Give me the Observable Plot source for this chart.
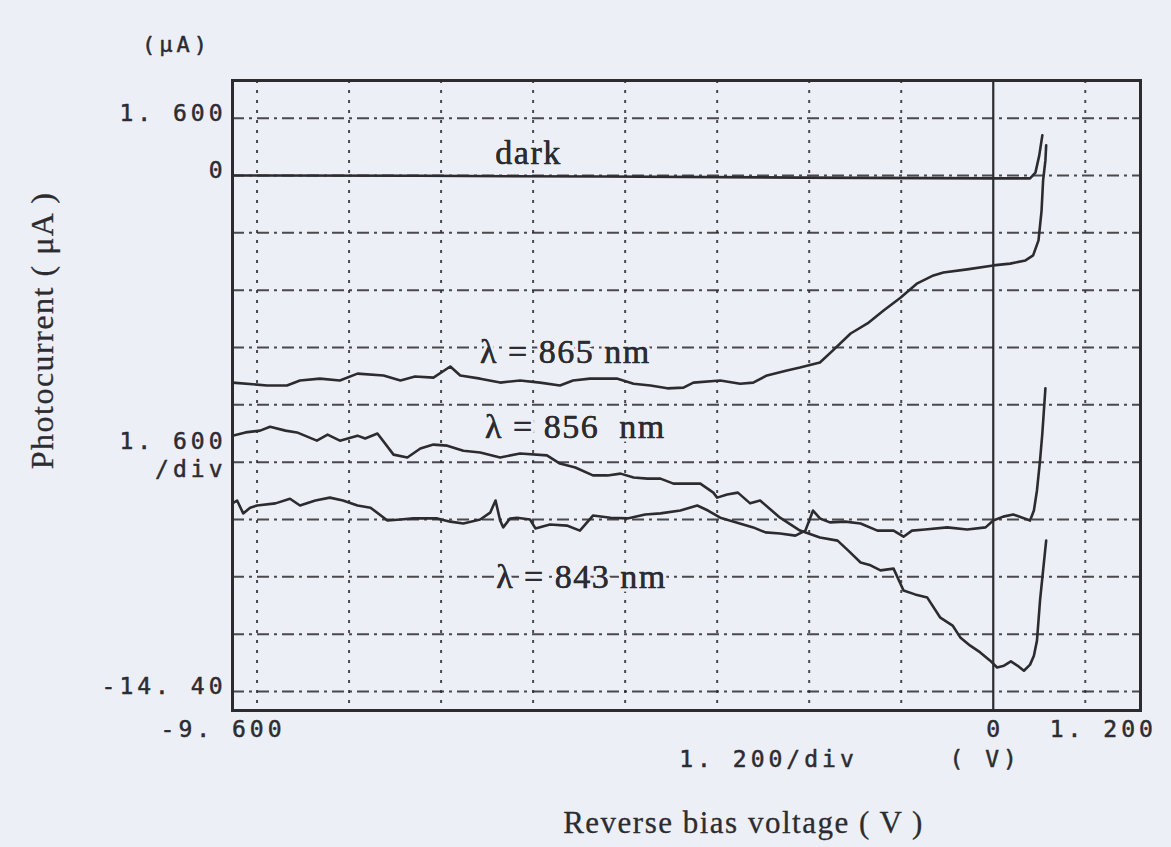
<!DOCTYPE html>
<html>
<head>
<meta charset="utf-8">
<script src="https://cdn.jsdelivr.net/npm/d3@7"></script>
<script src="https://cdn.jsdelivr.net/npm/@observablehq/plot@0.6"></script>
<style>
  html, body { margin: 0; padding: 0; background: #edeff7; }
  g[font-family="DejaVu Sans Mono"] text { letter-spacing: 4px; }
  g[font-family="Liberation Serif"] text { letter-spacing: 1.5px; }
</style>
</head>
<body>
<script>
// ---- axis ticks (oscilloscope print-out) ----
const xTicks = [-9.6, 0, 1.2];
const xTickLabels = ["-9. 600", "0", "1. 200"];
const yTicks = [1.6, 0, -14.4];
const yTickLabels = ["1. 600", "0", "-14. 40"];
const xGridValues = [-9.6, -8.4, -7.2, -6.0, -4.8, -3.6, -2.4, -1.2, 1.2];
const yGridValues = [1.6, 0, -1.6, -3.2, -4.8, -6.4, -8.0, -9.6, -11.2, -12.8, -14.4];

// ---- traces: reverse bias voltage (V) vs photocurrent (uA) ----
const darkV = [-9.92, -7.5, -5.12, -2.5, 0, 0.48, 0.55, 0.60, 0.64];
const darkI = [0.0, -0.01, -0.03, -0.06, -0.08, -0.08, 0.08, 0.56, 1.12];

const l865V = [-9.92, -9.47, -9.21, -9.04, -8.78, -8.52, -8.29, -7.95, -7.73, -7.54, -7.30, -7.08, -6.95, -6.69, -6.43, -6.17, -5.91, -5.65, -5.48, -5.26, -4.90, -4.69, -4.47, -4.25, -4.04, -3.91, -3.56, -3.30, -3.13, -2.95, -2.69, -2.52, -2.26, -2.09, -1.86, -1.64, -1.43, -1.21, -0.99, -0.78, -0.65, -0.34, 0, 0.22, 0.42, 0.52, 0.59, 0.63, 0.65, 0.68, 0.69];
const l865I = [-5.78, -5.86, -5.86, -5.72, -5.67, -5.72, -5.53, -5.58, -5.72, -5.61, -5.64, -5.33, -5.58, -5.67, -5.78, -5.72, -5.78, -5.86, -5.72, -5.67, -5.67, -5.81, -5.86, -5.94, -5.92, -5.78, -5.72, -5.81, -5.78, -5.58, -5.44, -5.36, -5.22, -4.88, -4.41, -4.13, -3.77, -3.41, -3.01, -2.79, -2.71, -2.62, -2.51, -2.46, -2.37, -2.23, -1.81, -0.98, -0.14, 0.42, 0.84];

const l856V = [-9.92, -9.75, -9.56, -9.43, -9.23, -9.08, -8.82, -8.68, -8.52, -8.29, -8.19, -8.03, -7.82, -7.64, -7.47, -7.30, -7.12, -6.91, -6.69, -6.43, -6.17, -5.82, -5.65, -5.45, -5.22, -5.03, -4.86, -4.69, -4.51, -4.34, -4.17, -3.99, -3.82, -3.65, -3.60, -3.47, -3.33, -3.17, -3.04, -2.78, -2.52, -2.26, -2.03, -1.89, -1.73, -1.60, -1.47, -1.30, -1.17, -1.02, -0.86, -0.69, -0.53, -0.43, -0.30, -0.17, -0.04, 0.05, 0.14, 0.23, 0.33, 0.40, 0.48, 0.53, 0.57, 0.61, 0.65, 0.69];
const l856I = [-7.26, -7.17, -7.12, -7.01, -7.12, -7.17, -7.40, -7.23, -7.40, -7.26, -7.34, -7.20, -7.79, -7.87, -7.62, -7.51, -7.54, -7.68, -7.73, -7.87, -7.76, -7.81, -8.04, -8.15, -8.37, -8.37, -8.32, -8.43, -8.46, -8.46, -8.60, -8.60, -8.60, -8.85, -8.99, -8.90, -8.85, -9.15, -9.07, -9.55, -9.91, -10.10, -10.19, -10.47, -10.80, -10.88, -11.02, -10.97, -11.58, -11.69, -11.78, -12.34, -12.56, -12.89, -13.12, -13.31, -13.54, -13.73, -13.68, -13.56, -13.70, -13.82, -13.65, -13.40, -12.98, -11.86, -11.02, -10.19];

const l843V = [-9.92, -9.86, -9.78, -9.69, -9.60, -9.36, -9.17, -9.04, -8.84, -8.65, -8.48, -8.29, -8.12, -7.90, -7.73, -7.56, -7.25, -7.08, -6.91, -6.69, -6.56, -6.49, -6.43, -6.39, -6.30, -6.21, -6.04, -5.97, -5.78, -5.56, -5.39, -5.22, -4.99, -4.77, -4.54, -4.34, -4.08, -3.86, -3.72, -3.56, -3.36, -3.13, -2.97, -2.78, -2.58, -2.45, -2.35, -2.26, -2.13, -1.93, -1.73, -1.51, -1.30, -1.17, -1.06, -0.89, -0.60, -0.34, -0.10, 0, 0.13, 0.26, 0.38, 0.48, 0.53, 0.57, 0.61, 0.64, 0.68];
const l843I = [-9.15, -9.07, -9.43, -9.27, -9.21, -9.15, -9.02, -9.21, -9.07, -8.99, -9.07, -9.21, -9.27, -9.63, -9.60, -9.57, -9.57, -9.66, -9.71, -9.60, -9.41, -9.07, -9.63, -9.82, -9.57, -9.55, -9.60, -9.85, -9.74, -9.77, -9.91, -9.49, -9.55, -9.57, -9.46, -9.43, -9.35, -9.21, -9.35, -9.55, -9.68, -9.82, -9.96, -9.99, -10.05, -9.91, -9.35, -9.57, -9.68, -9.66, -9.71, -9.91, -9.91, -10.08, -9.91, -9.88, -9.82, -9.88, -9.82, -9.63, -9.52, -9.46, -9.55, -9.63, -9.35, -8.79, -7.95, -7.20, -5.94];

// ---- in-plot annotations ----
const noteText = ["dark", "\u03bb = 865 nm", "\u03bb = 856  nm", "\u03bb = 843 nm"];
const noteV = [-6.06, -5.58, -5.45, -5.37];
const noteI = [0.61, -4.94, -7.03, -11.22];

// ---- build rows for the library ----
const rows = (name, V, I) => V.map((v, i) => ({series: name, v, i: I[i]}));
const traces = [
  ...rows("dark", darkV, darkI),
  ...rows("865", l865V, l865I),
  ...rows("856", l856V, l856I),
  ...rows("843", l843V, l843I)
];
const notes = noteText.map((t, k) => ({t, v: noteV[k], i: noteI[k]}));
const xLab = xTicks.map((v, k) => ({v, t: xTickLabels[k]}));
const yLab = yTicks.map((v, k) => ({v, t: yTickLabels[k]}));

const ink = "#2c2c30";
const bg = "#edeff7";
const mono = "DejaVu Sans Mono";
const serif = "Liberation Serif";
const monoStyle = {fontFamily: mono, fontSize: 23, fill: ink, stroke: ink, strokeWidth: 0.5};
const serifStyle = {fontFamily: serif, fill: ink, stroke: ink, strokeWidth: 0.4};

const chart = Plot.plot({
  width: 1171,
  height: 847,
  marginLeft: 232,
  marginRight: 31,
  marginTop: 80,
  marginBottom: 137,
  x: {domain: [-9.92, 1.92], axis: null},
  y: {domain: [-14.93, 2.65], axis: null},
  style: {background: bg, color: ink},
  marks: [
    Plot.ruleY(yGridValues, {stroke: ink, strokeWidth: 2, strokeDasharray: "12,5,3,5", strokeOpacity: 0.85}),
    Plot.ruleX(xGridValues, {stroke: ink, strokeWidth: 2, strokeDasharray: "3,7", strokeOpacity: 0.85}),
    Plot.ruleX([0], {stroke: ink, strokeWidth: 2.2}),
    Plot.frame({stroke: ink, strokeWidth: 3}),
    Plot.line(traces, {x: "v", y: "i", z: "series", stroke: ink, strokeWidth: 2.6, strokeLinejoin: "round"}),
    // in-plot labels (halo breaks the grid behind them, as in the print)
    Plot.text(notes, {x: "v", y: "i", text: "t", fontFamily: serif, fontSize: 34, fill: ink, stroke: bg, strokeWidth: 7}),
    Plot.text(notes, {x: "v", y: "i", text: "t", fontSize: 34, ...serifStyle}),
    // y tick labels
    Plot.text(yLab, {y: "v", text: "t", frameAnchor: "left", textAnchor: "end", dx: -6, dy: -5, ...monoStyle}),
    Plot.text(["1. 600", "/div"], {y: [-7.42, -8.22], text: d => d, frameAnchor: "left", textAnchor: "end", dx: -6, ...monoStyle}),
    // x tick labels
    Plot.text(xLab.slice(0, 1), {x: "v", text: "t", frameAnchor: "bottom", dy: 26, dx: -34, ...monoStyle}),
    Plot.text(xLab.slice(1, 2), {x: "v", text: "t", frameAnchor: "bottom", dy: 26, dx: 2, ...monoStyle}),
    Plot.text(xLab.slice(2, 3), {x: "v", text: "t", frameAnchor: "bottom", dy: 26, dx: 18, ...monoStyle}),
    // units / per-division notes
    Plot.text(["(\u03bcA)"], {frameAnchor: "top-left", textAnchor: "middle", dx: -56, dy: -44, ...monoStyle, fontSize: 22}),
    Plot.text(["1. 200/div"], {frameAnchor: "bottom", textAnchor: "middle", dx: 82, dy: 56, ...monoStyle}),
    Plot.text(["( V)"], {x: [0], text: d => d, frameAnchor: "bottom", textAnchor: "middle", dx: -8, dy: 56, ...monoStyle}),
    // axis titles
    Plot.text(["Reverse bias voltage ( V )"], {frameAnchor: "bottom", textAnchor: "middle", dx: 57, dy: 122, fontSize: 31, ...serifStyle, strokeWidth: 0.3}),
    Plot.text(["Photocurrent ( \u03bcA )"], {frameAnchor: "left", rotate: -90, textAnchor: "middle", dx: -190, dy: -65, fontSize: 32, ...serifStyle, strokeWidth: 0.3})
  ]
});
document.body.appendChild(chart);
</script>
</body>
</html>
